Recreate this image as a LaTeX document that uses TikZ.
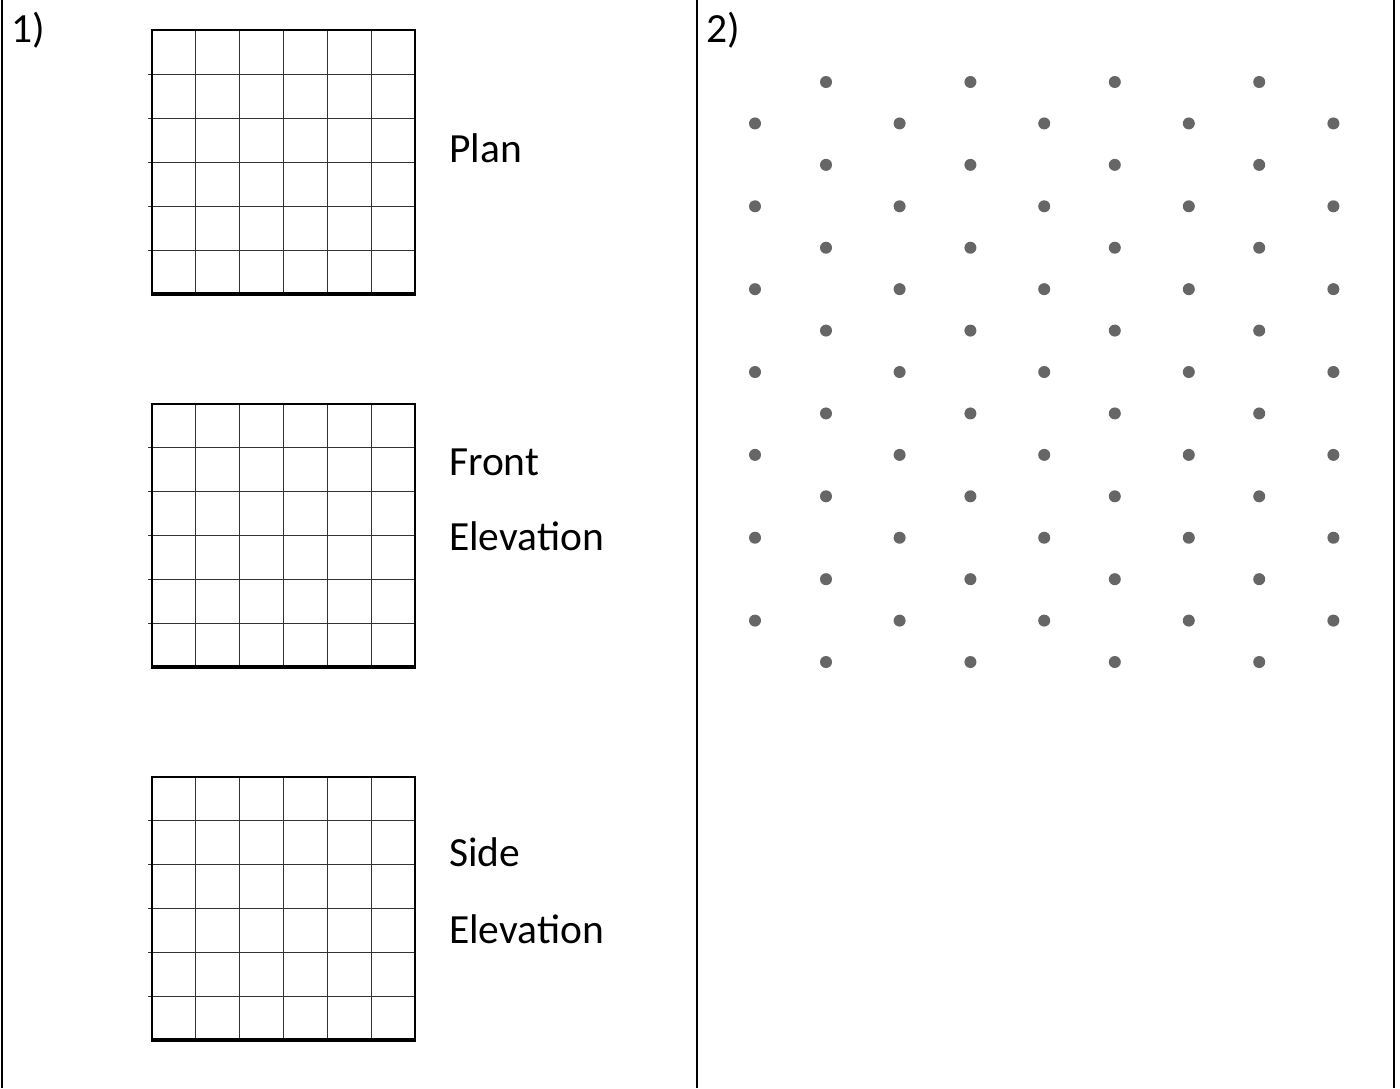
\documentclass[tikz,border=0pt]{standalone}
\usepackage{fontspec}
\setmainfont{Carlito}
\begin{document}
\begin{tikzpicture}[x=1pt,y=-1pt,
  frameline/.style={line width=2.2pt,black},
  gridline/.style={line width=1pt,black!80},
  gridborder/.style={line width=2.4pt,black},
  label/.style={anchor=base west,inner sep=0pt,font=\fontsize{41.5}{50}\selectfont},
  dotmark/.style={fill=black!60}]
\useasboundingbox (0,0) rectangle (1400,1088);
% frame
\draw[frameline] (2,0) -- (2,1088);
\draw[frameline] (697,0) -- (697,1088);
\draw[frameline] (1394,0) -- (1394,1088);
% grids
\foreach \top/\bot in {30/294, 404/667, 777/1040}{
  \foreach \i in {1,...,5}{
    \draw[gridline] ({152+\i*43.83},\top) -- ({152+\i*43.83},\bot);
    \draw[gridline] (148,{\top+\i*(\bot-\top)/6}) -- (415,{\top+\i*(\bot-\top)/6});
  }
  \draw[gridborder] (152,\bot) -- (152,\top) -- (415,\top) -- (415,\bot);
  \draw[line width=3.5pt] (151,\bot) -- (416,\bot);
}
% labels
\node[label] (n1) at (11,42) {1)};
\node[label] (n2) at (706,42) {2)};
\node[label] (plan) at (449,162) {Plan};
\node[label] (front) at (449,475) {Front};
\node[label] (felev) at (449,550) {Elevation};
\node[label] (side) at (449,866) {Side};
\node[label] (selev) at (449,943) {Elevation};
% dots
\foreach \k in {0,...,14}{
  \pgfmathtruncatemacro{\odd}{mod(\k,2)}
  \ifnum\odd=0
    \foreach \j in {0,...,3}{\fill[dotmark] ({826+\j*144.4},{82+\k*41.43}) circle (6);}
  \else
    \foreach \j in {0,...,4}{\fill[dotmark] ({755+\j*144.6},{82+\k*41.43}) circle (6);}
  \fi
}
\end{tikzpicture}
\end{document}
